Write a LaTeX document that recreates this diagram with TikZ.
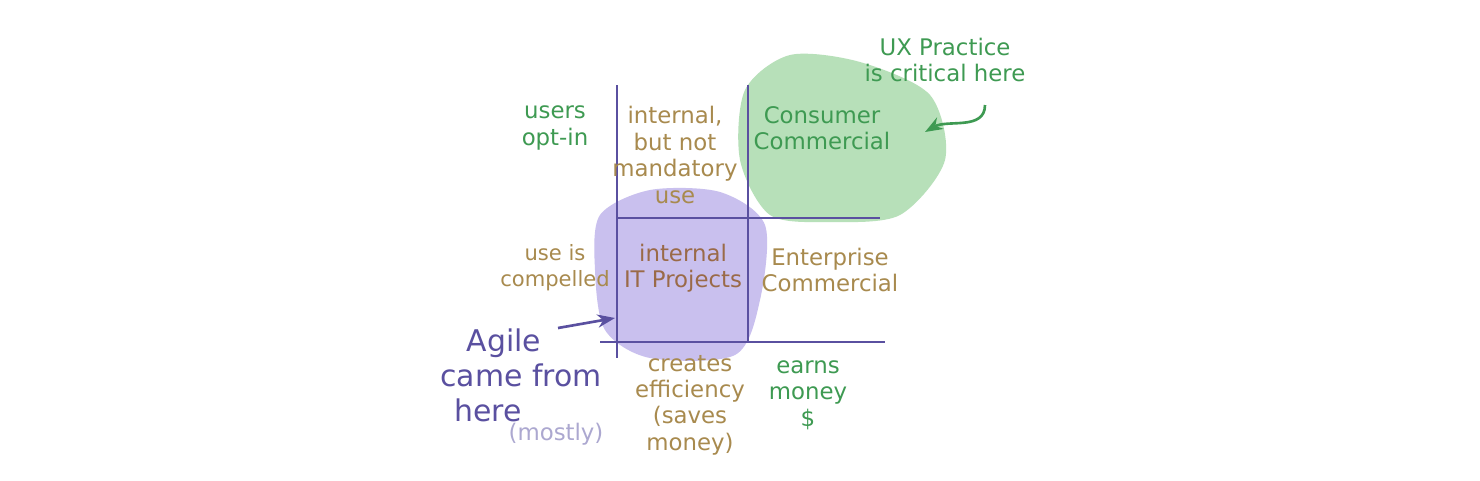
\documentclass[tikz,border=0pt]{standalone}
\usepackage{fontspec}
\setmainfont{DejaVu Sans}
\usetikzlibrary{positioning,arrows.meta}
\definecolor{penGreen}{HTML}{3E9A52}
\definecolor{penTan}{HTML}{A88A4E}
\definecolor{penBrown}{HTML}{9A6A48}
\definecolor{penPurple}{HTML}{5A50A0}
\definecolor{blobGreen}{HTML}{B7E0B9}
\definecolor{blobPurple}{HTML}{C9C0EE}
\tikzset{
  note/.style={align=center, font=\fontsize{13}{15}\selectfont, inner sep=0pt},
  grid/.style={penPurple, line width=1.2pt}
}
\begin{document}
\begin{tikzpicture}[x=0.02cm, y=-0.02cm]
  \fill [white] (0,0) rectangle (1480,480);
  % blobs
  \fill [blobGreen] plot [smooth cycle] coordinates {(745,90) (790,55) (860,62) (930,95) (945,160) (900,215) (830,222) (770,215) (740,160)};
  \fill [blobPurple] plot [smooth cycle] coordinates {(600,215) (650,190) (720,192) (765,225) (760,300) (735,355) (650,358) (605,330) (595,270)};
  % grid
  \draw [grid] (617,85) -- (617,358);
  \draw [grid] (748,85) -- (748,342);
  \draw [grid] (617,218) -- (880,218);
  \draw [grid] (600,342) -- (885,342);
  % texts
  \node [note, penGreen] (optin) at (555,128) {users\\opt-in};
  \node [note, penTan, font=\fontsize{12}{15}\selectfont] (compel) at (555,268) {use is\\compelled};
  \node [note, penTan] (mandat) at (675,155) {internal,\\but not\\mandatory\\use};
  \node [note, penBrown] (itproj) at (683,268) {internal\\IT Projects};
  \node [note, penGreen] (consumer) at (822,128) {Consumer\\Commercial};
  \node [note, penTan] (enterprise) at (830,270) {Enterprise\\Commercial};
  \node [note, penTan] (effic) at (690,405) {creates\\efficiency\\(saves\\money)};
  \node [note, penGreen] (earns) at (808,395) {earns\\money\\\$};
  \node [note, penGreen] (ux) at (945,60) {UX Practice\\is critical here};
  \node [note, penPurple, align=left, anchor=west, font=\fontsize{17}{20}\selectfont] (agile) at (440,375) {\hspace*{15pt}Agile\\came from\\\hspace*{8pt}here};
  \node [note, penPurple!50] (mostly) at (556,434) {(mostly)};
  % arrows
  \draw [penGreen, line width=1.5pt, -{Stealth[length=10pt]}] (985,105) to [out=-90, in=30] (925,132);
  \draw [penPurple, line width=1.5pt, -{Stealth[length=10pt]}] (558,328) -- (615,318);
\end{tikzpicture}
\end{document}
